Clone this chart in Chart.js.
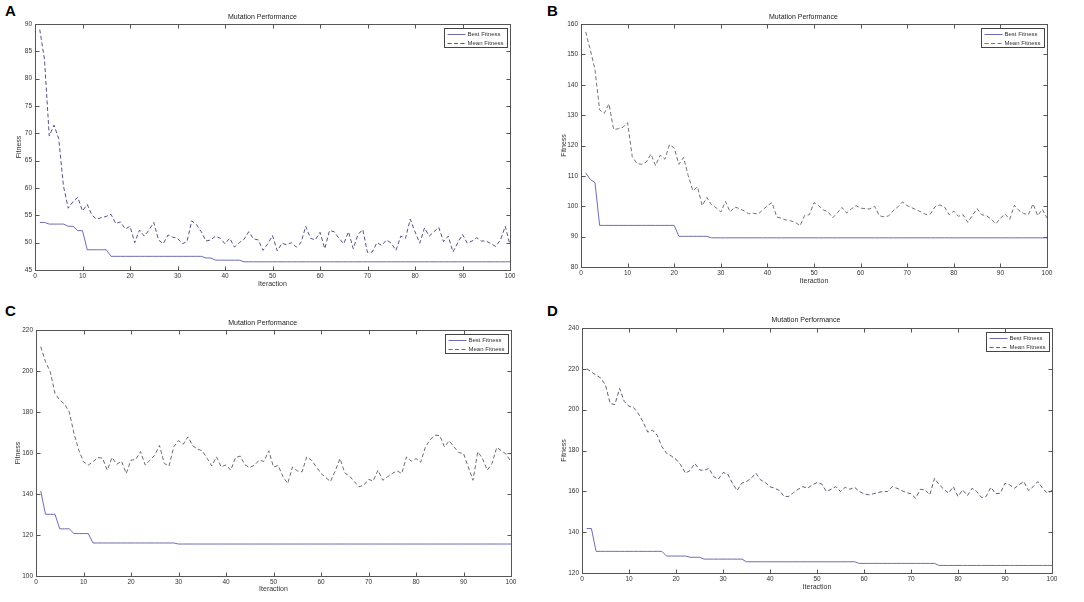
<!DOCTYPE html>
<html><head><meta charset="utf-8">
<script src="https://cdn.jsdelivr.net/npm/chart.js@4/dist/chart.umd.min.js"></script>
<style>
html,body{margin:0;padding:0;background:#fff;}
body{width:1084px;height:602px;position:relative;overflow:hidden;font-family:"Liberation Sans",Arial,sans-serif;}
.panel{position:absolute;}
.letter{position:absolute;font-weight:bold;font-size:15px;color:#000;line-height:1;}
</style></head><body>
<div class="letter" style="left:5px;top:3px">A</div>
<div class="letter" style="left:547px;top:3px">B</div>
<div class="letter" style="left:5px;top:303px">C</div>
<div class="letter" style="left:547px;top:303px">D</div>
<div class="panel" style="left:0;top:0;width:540px;height:300px"><canvas id="cA"></canvas></div>
<div class="panel" style="left:540px;top:0;width:544px;height:300px"><canvas id="cB"></canvas></div>
<div class="panel" style="left:0;top:300px;width:540px;height:302px"><canvas id="cC"></canvas></div>
<div class="panel" style="left:540px;top:300px;width:544px;height:302px"><canvas id="cD"></canvas></div>
<script>
// ---- data ----
const iterations = Array.from({length: 100}, (_, i) => i + 1);
const seriesNames = ['Best Fitness', 'Mean Fitness'];
const chartTitle = 'Mutation Performance';
const xTitle = 'Iteraction';
const yTitle = 'Fitness';

const bestA = [53.7,53.7,53.4,53.4,53.4,53.4,53.0,53.0,52.2,52.2,
 48.7,48.7,48.7,48.7,48.7,47.5,47.5,47.5,47.5,47.5,
 47.5,47.5,47.5,47.5,47.5,47.5,47.5,47.5,47.5,47.5,
 47.5,47.5,47.5,47.5,47.5,47.2,47.2,46.8,46.8,46.8,
 46.8,46.8,46.8,46.5,46.5,46.5,46.5,46.5,46.5,46.5,
 46.5,46.5,46.5,46.5,46.5,46.5,46.5,46.5,46.5,46.5,
 46.5,46.5,46.5,46.5,46.5,46.5,46.5,46.5,46.5,46.5,
 46.5,46.5,46.5,46.5,46.5,46.5,46.5,46.5,46.5,46.5,
 46.5,46.5,46.5,46.5,46.5,46.5,46.5,46.5,46.5,46.5,
 46.5,46.5,46.5,46.5,46.5,46.5,46.5,46.5,46.5,46.5];
const meanA = [89,83.5,69.5,71.5,69,60.3,56.3,57.5,58.3,55.8,
 57,55,54.3,54.6,54.8,55.2,53.5,53.8,52.5,53,
 50,52.3,51.2,52.3,53.7,50.5,49.8,51.4,51,50.8,
 49.8,50.2,54,53.3,52,50.3,50.5,51.2,50.8,49.8,
 50.8,49.2,50,50.6,52,50.7,50.5,48.6,49.8,51.3,
 48.5,49.9,49.6,50,49.2,50,53,50.8,50.5,51.9,
 48.9,52.2,52,50.8,49.8,52,48.9,51.5,52.4,48.2,
 48.3,50,49.5,50.5,49.9,48.6,51.2,50.8,54.3,52,
 49.9,52.7,51.2,52,52.8,50.2,51.2,48.3,50,51.5,
 49.9,50.3,50.9,50.3,50.3,49.8,49.3,50.5,53,49.6];

const bestB = [111,108.8,107.8,93.7,93.7,93.7,93.7,93.7,93.7,93.7,
 93.7,93.7,93.7,93.7,93.7,93.7,93.7,93.7,93.7,93.7,
 90.1,90.1,90.1,90.1,90.1,90.1,90.1,89.6,89.6,89.6,
 89.6,89.6,89.6,89.6,89.6,89.6,89.6,89.6,89.6,89.6,
 89.6,89.6,89.6,89.6,89.6,89.6,89.6,89.6,89.6,89.6,
 89.6,89.6,89.6,89.6,89.6,89.6,89.6,89.6,89.6,89.6,
 89.6,89.6,89.6,89.6,89.6,89.6,89.6,89.6,89.6,89.6,
 89.6,89.6,89.6,89.6,89.6,89.6,89.6,89.6,89.6,89.6,
 89.6,89.6,89.6,89.6,89.6,89.6,89.6,89.6,89.6,89.6,
 89.6,89.6,89.6,89.6,89.6,89.6,89.6,89.6,89.6,89.6];
const meanB = [157.4,151.5,145,131.7,130.6,133.7,125.3,125.5,126,127.5,
 116.3,114.1,113.8,114.5,117.2,113.4,116.8,115.5,120.3,119.2,
 113.8,116.1,110.1,105.1,106.4,100.2,102.9,100.5,99.5,98.1,
 101.6,98.1,99.8,99.2,98.5,97.5,97.7,97.4,98.8,100.2,
 101.2,96.5,96,95.5,95.2,94.7,93.6,97,97.2,101.2,
 100.2,98.8,98.2,96.2,97.8,99.6,97.8,99.1,100.2,99.4,
 99.2,99.1,100,96.9,96.5,96.8,98.5,99.8,101.4,100.2,
 99.5,98.8,98.1,97.3,97.5,99.9,100.4,99.8,97.2,98.4,
 96.7,97.2,94.7,97,99.2,97.2,96.9,95.8,94.2,96.1,
 97.4,95.7,100.3,98.6,97.6,97.2,100.8,96.9,99,96.1];

const bestC = [141.5,130.1,130.1,130.1,123,123,123,120.7,120.7,120.7,
 120.7,116.1,116.1,116.1,116.1,116.1,116.1,116.1,116.1,116.1,
 116.1,116.1,116.1,116.1,116.1,116.1,116.1,116.1,116.1,115.6,
 115.6,115.6,115.6,115.6,115.6,115.6,115.6,115.6,115.6,115.6,
 115.6,115.6,115.6,115.6,115.6,115.6,115.6,115.6,115.6,115.6,
 115.6,115.6,115.6,115.6,115.6,115.6,115.6,115.6,115.6,115.6,
 115.6,115.6,115.6,115.6,115.6,115.6,115.6,115.6,115.6,115.6,
 115.6,115.6,115.6,115.6,115.6,115.6,115.6,115.6,115.6,115.6,
 115.6,115.6,115.6,115.6,115.6,115.6,115.6,115.6,115.6,115.6,
 115.6,115.6,115.6,115.6,115.6,115.6,115.6,115.6,115.6,115.6];
const meanC = [211.9,204.5,199.6,189.1,185.8,183.9,180.1,169.5,161.4,155.7,
 154.1,155.7,157.8,157.5,151.6,157.8,154.5,156,150,156.5,
 156.8,160.7,154.1,156.5,158.9,163.7,154.9,153.6,163,166,
 164.3,167.9,163.5,161.9,161.1,157.5,153.7,158.1,153.2,154.2,
 151.6,157.8,158.5,154.2,152.9,154.1,156.5,155.9,161.1,153.2,
 153.9,148.4,145.1,153.2,151.3,150.8,158.1,156.5,153.2,150,
 148,146.1,151.3,157.3,150.3,148.7,146.1,143.5,144.3,147.1,
 146.4,151.6,146.7,148.4,150,151.3,150,158.1,156,157.3,
 155.5,163,166.6,168.7,168.5,163,166,163,160.2,159.8,
 153.2,146.7,160.6,157.3,151.6,154.9,162.7,161.1,159.4,155.7];

const bestD = [141.8,141.8,130.6,130.6,130.6,130.6,130.6,130.6,130.6,130.6,
 130.6,130.6,130.6,130.6,130.6,130.6,130.6,128.3,128.3,128.3,
 128.3,128.3,127.7,127.7,127.7,126.8,126.8,126.8,126.8,126.8,
 126.8,126.8,126.8,126.8,125.5,125.5,125.5,125.5,125.5,125.5,
 125.5,125.5,125.5,125.5,125.5,125.5,125.5,125.5,125.5,125.5,
 125.5,125.5,125.5,125.5,125.5,125.5,125.5,125.5,124.7,124.7,
 124.7,124.7,124.7,124.7,124.7,124.7,124.7,124.7,124.7,124.7,
 124.7,124.7,124.7,124.7,124.7,123.7,123.7,123.7,123.7,123.7,
 123.7,123.7,123.7,123.7,123.7,123.7,123.7,123.7,123.7,123.7,
 123.7,123.7,123.7,123.7,123.7,123.7,123.7,123.7,123.7,123.7];
const meanD = [220,218.5,216.9,215.5,212,203,202.5,210.4,204,201.7,
 201,198,194,189,190,187.5,181.9,178.6,177.3,175.7,
 173,168.9,170.2,173.7,170.5,170.2,171.3,167.2,165.9,169.2,
 168.5,164,160.4,164,164.8,166.4,168.9,165.6,164.3,162.3,
 161.5,160.4,157.5,157.5,159.4,161,162.3,161.5,163.2,164.3,
 163.6,159.9,161,162.3,159.9,162,161,162,159.9,158.8,
 158.3,158.8,159.4,159.9,159.9,162.3,161.5,160.4,159.4,158.8,
 156.6,161,160.7,158.3,166.4,163.2,161,159.1,162.3,157.5,
 160.7,157.9,161.5,159.9,157,157.5,162,158.8,159.1,164,
 163.2,161.5,163.2,164.8,160.4,162.3,164.8,161.5,159.1,160.4];

// ---- panels (layout only) ----
const panels = [
  {id:'cA', W:540, H:300, plot:{l:35,t:24,r:510,b:270}, titleY:17, yTitleX:19, xTitleY:284,
   y:{min:45,max:90,step:5}, best:bestA, mean:meanA, meanColor:'#52528c'},
  {id:'cB', W:544, H:300, plot:{l:41,t:24,r:507,b:267}, titleY:17, yTitleX:24, xTitleY:281,
   y:{min:80,max:160,step:10}, best:bestB, mean:meanB, meanColor:'#727272'},
  {id:'cC', W:540, H:302, plot:{l:36,t:30,r:511,b:276}, titleY:23, yTitleX:18.5, xTitleY:289,
   y:{min:100,max:220,step:20}, best:bestC, mean:meanC, meanColor:'#6c6c6c'},
  {id:'cD', W:544, H:302, plot:{l:42,t:28,r:512,b:273}, titleY:20, yTitleX:24, xTitleY:287,
   y:{min:120,max:240,step:20}, best:bestD, mean:meanD, meanColor:'#5e5e78'}
];

const FONT = '"Liberation Sans", Arial, sans-serif';
const bestColor = '#6d6db2';

const framePlugin = {
  id: 'matlabFrame',
  afterDraw(chart) {
    const ctx = chart.ctx;
    const a = chart.chartArea;
    const xs = chart.scales.x, ys = chart.scales.y;
    const L = Math.round(a.left) + 0.5, R = Math.round(a.right) + 0.5;
    const T = Math.round(a.top) + 0.5, B = Math.round(a.bottom) + 0.5;
    ctx.save();
    ctx.strokeStyle = '#555';
    ctx.lineWidth = 1;
    ctx.setLineDash([]);
    ctx.strokeRect(L, T, R - L, B - T);
    ctx.beginPath();
    const tl = 4;
    xs.ticks.forEach(t => {
      const px = Math.round(xs.getPixelForValue(t.value)) + 0.5;
      ctx.moveTo(px, B); ctx.lineTo(px, B - tl);
      ctx.moveTo(px, T); ctx.lineTo(px, T + tl);
    });
    ys.ticks.forEach(t => {
      const py = Math.round(ys.getPixelForValue(t.value)) + 0.5;
      ctx.moveTo(L, py); ctx.lineTo(L + tl, py);
      ctx.moveTo(R, py); ctx.lineTo(R - tl, py);
    });
    ctx.stroke();

    // legend box (MATLAB style)
    ctx.font = '6px ' + FONT;
    const ds = chart.data.datasets;
    const tw = Math.max(...ds.map(d => ctx.measureText(d.label).width));
    const bw = Math.ceil(23 + tw + 3), bh = 19;
    const bx = Math.round(a.right - 3 - bw) + 0.5, by = Math.round(a.top + 4) + 0.5;
    ctx.fillStyle = '#fff';
    ctx.fillRect(bx, by, bw, bh);
    ctx.strokeStyle = '#444';
    ctx.strokeRect(bx, by, bw, bh);
    ds.forEach((d, i) => {
      const cy = Math.round(by + 5 + i * 9) + 0.5;
      ctx.beginPath();
      ctx.strokeStyle = d.borderColor;
      ctx.lineWidth = 1;
      ctx.setLineDash(d.borderDash || []);
      ctx.moveTo(bx + 3, cy); ctx.lineTo(bx + 21, cy);
      ctx.stroke();
      ctx.setLineDash([]);
      ctx.fillStyle = '#333';
      ctx.textBaseline = 'middle';
      ctx.textAlign = 'left';
      ctx.fillText(d.label, bx + 23, cy);
    });
    ctx.restore();
  }
};

panels.forEach(p => {
  const lh = 7 * 1.2;
  const titlePadTop = p.titleY - lh / 2;
  const titlePadBottom = p.plot.t - titlePadTop - lh;
  const padLeft = p.yTitleX - lh / 2;
  const yW = p.plot.l - padLeft;
  const xH = p.xTitleY - p.plot.b + lh / 2;
  const padBottom = p.H - p.plot.b - xH;
  const padRight = p.W - p.plot.r;

  new Chart(document.getElementById(p.id), {
    type: 'line',
    data: {
      labels: iterations,
      datasets: [
        {label: seriesNames[0], data: p.best, borderColor: bestColor, borderWidth: 1,
         pointRadius: 0, tension: 0, fill: false},
        {label: seriesNames[1], data: p.mean, borderColor: p.meanColor, borderWidth: 1,
         borderDash: [4, 2.5], pointRadius: 0, tension: 0, fill: false}
      ]
    },
    options: {
      responsive: true,
      maintainAspectRatio: false,
      animation: false,
      devicePixelRatio: 1,
      layout: {padding: {left: padLeft, right: padRight, top: 0, bottom: padBottom}},
      plugins: {
        legend: {display: false},
        tooltip: {enabled: false},
        title: {display: true, text: chartTitle, color: '#222',
                font: {family: FONT, size: 7, lineHeight: 1.2, weight: 'normal'},
                padding: {top: titlePadTop, bottom: titlePadBottom}}
      },
      scales: {
        x: {
          type: 'linear', min: 0, max: 100,
          grid: {display: false, drawTicks: false},
          border: {display: false},
          ticks: {stepSize: 10, maxRotation: 0, autoSkip: false, padding: 2, color: '#333',
                  font: {family: FONT, size: 6.5}},
          title: {display: true, text: xTitle, color: '#333', padding: 0,
                  font: {family: FONT, size: 7, lineHeight: 1.2}},
          afterFit(s) { s.height = xH; }
        },
        y: {
          min: p.y.min, max: p.y.max,
          grid: {display: false, drawTicks: false},
          border: {display: false},
          ticks: {stepSize: p.y.step, padding: 3, color: '#333', autoSkip: false,
                  font: {family: FONT, size: 6.5}},
          title: {display: true, text: yTitle, color: '#333', padding: 0,
                  font: {family: FONT, size: 7, lineHeight: 1.2}},
          afterFit(s) { s.width = yW; }
        }
      }
    },
    plugins: [framePlugin]
  });
});
</script>
</body></html>
